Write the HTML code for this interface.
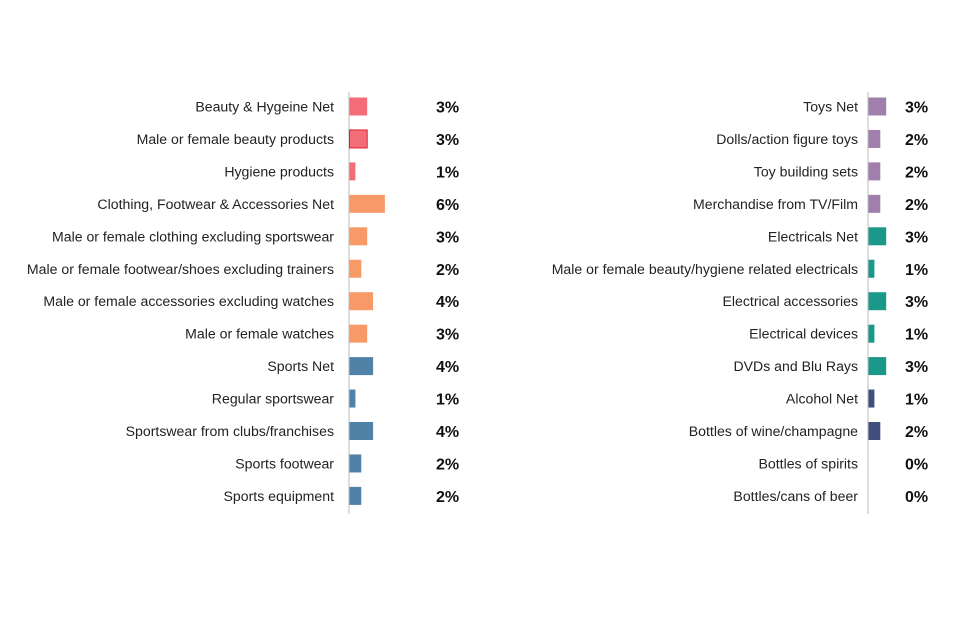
<!DOCTYPE html>
<html><head><meta charset="utf-8"><style>
body{margin:0;background:#fff;font-family:"Liberation Sans",Arial,sans-serif}
svg{display:block}
</style></head><body>
<svg id="chart" width="960" height="640"></svg>
<script>
const leftCategories=["Beauty & Hygeine Net","Male or female beauty products","Hygiene products","Clothing, Footwear & Accessories Net","Male or female clothing excluding sportswear","Male or female footwear/shoes excluding trainers","Male or female accessories excluding watches","Male or female watches","Sports Net","Regular sportswear","Sportswear from clubs/franchises","Sports footwear","Sports equipment"];
const leftValues=[3,3,1,6,3,2,4,3,4,1,4,2,2];
const leftGroups=["beauty","beauty","beauty","clothing","clothing","clothing","clothing","clothing","sports","sports","sports","sports","sports"];
const rightCategories=["Toys Net","Dolls/action figure toys","Toy building sets","Merchandise from TV/Film","Electricals Net","Male or female beauty/hygiene related electricals","Electrical accessories","Electrical devices","DVDs and Blu Rays","Alcohol Net","Bottles of wine/champagne","Bottles of spirits","Bottles/cans of beer"];
const rightValues=[3,2,2,2,3,1,3,1,3,1,2,0,0];
const rightGroups=["toys","toys","toys","toys","elec","elec","elec","elec","elec","alcohol","alcohol","alcohol","alcohol"];
const colors={beauty:"#f26d77",clothing:"#f89a68",sports:"#5082a8",toys:"#a07fac",elec:"#1a998a",alcohol:"#414f7c"};
const NS="http://www.w3.org/2000/svg";
const svg=document.getElementById("chart");
const pxPer=5.9, y0=106.5, step=32.45, bh=18;
function yScale(i){return y0+i*step;}
function xScale(v,ax){return ax+v*pxPer;}
function mk(tag,attrs,parent){const e=document.createElementNS(NS,tag);for(const k in attrs)e.setAttribute(k,attrs[k]);(parent||svg).appendChild(e);return e;}
function panel(cats,vals,groups,ax,labelX,valX,name){
  const g=mk("g",{});
  
  
  const ln=mk("line",{x1:ax,x2:ax,y1:92,y2:514,stroke:"#bbb","stroke-width":1},g);
  
  
  cats.forEach((c,i)=>{
    const y=yScale(i);
    const t=mk("text",{x:labelX,y:y+5,"text-anchor":"end","font-size":"14.1",fill:"#222"},g);
    t.textContent=c;
    
    
    const w=xScale(vals[i],ax)-ax;
    if(w>0){
      const r=mk("rect",{x:ax+0.5,y:y-bh/2,width:w,height:bh,fill:colors[groups[i]]},g);
      if(name==="left"&&i===1){r.setAttribute("stroke","#e0202c");r.setAttribute("stroke-width","1");}
      
      
    }
    const v=mk("text",{x:valX,y:y+6,"font-size":"16","font-weight":"bold",fill:"#111"},g);
    v.textContent=vals[i]+"%";
    
    
  });
}
panel(leftCategories,leftValues,leftGroups,349,334,436,"left");
panel(rightCategories,rightValues,rightGroups,868,858,905,"right");
</script>
</body></html>
